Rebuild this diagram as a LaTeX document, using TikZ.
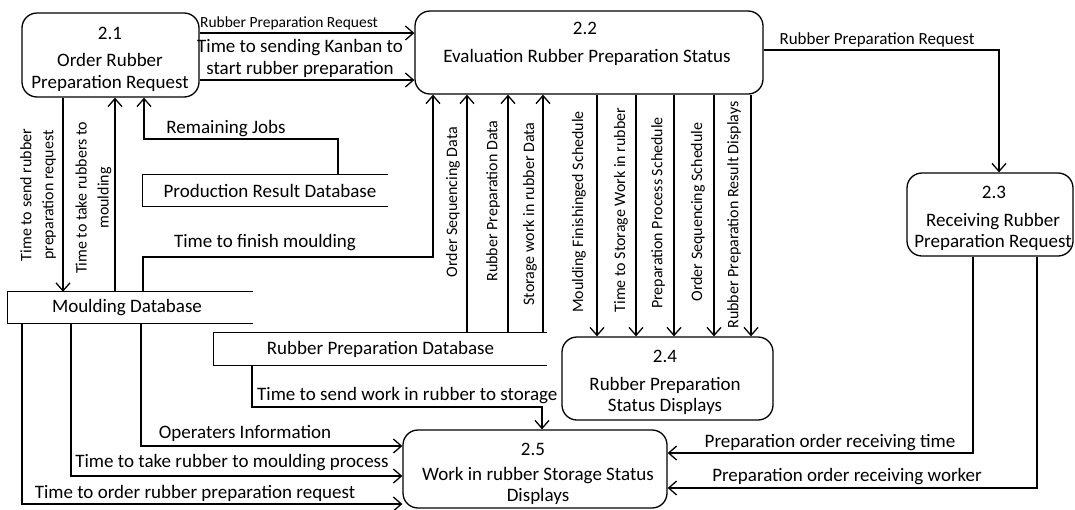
\documentclass[tikz,border=0pt]{standalone}
\usepackage{fontspec}
\setmainfont{Carlito}
\usetikzlibrary{arrows.meta}
\begin{document}
\begin{tikzpicture}[x=1pt,y=-1pt,
  ln/.style={line width=1.3pt},
  arr/.style={ln,-{Straight Barb[length=8pt,width=14pt]}},
  proc/.style={draw,line width=1.3pt,rounded corners=15pt,inner sep=0pt},
  store/.style={inner sep=0pt,font=\fontsize{19}{22}\selectfont},
  txt/.style={inner sep=0pt,font=\fontsize{19}{21.5}\selectfont,align=center},
  small/.style={inner sep=0pt,font=\fontsize{16}{22}\selectfont,align=center},
  vl/.style={small,rotate=90},
]
\useasboundingbox (0,0) rectangle (1075,509);

% processes
\node[proc,minimum width=177pt,minimum height=84pt] (n21) at (110.5,55) {};
\node[txt] (t21a) at (110,33) {2.1};
\node[txt] (t21b) at (110,72.5) {Order Rubber\\Preparation Request};

\node[proc,minimum width=348pt,minimum height=83pt] (n22) at (589,52.5) {};
\node[txt] (t22a) at (585,28) {2.2};
\node[txt] (t22b) at (587,57) {Evaluation Rubber Preparation Status};

\node[proc,minimum width=166pt,minimum height=83pt] (n23) at (990,214.5) {};
\node[txt] (t23a) at (994,192) {2.3};
\node[txt] (t23b) at (993,232) {Receiving Rubber\\Preparation Request};

\node[proc,minimum width=211pt,minimum height=83pt] (n24) at (667.5,378.5) {};
\node[txt] (t24a) at (665,356) {2.4};
\node[txt] (t24b) at (665,396) {Rubber Preparation\\Status Displays};

\node[proc,minimum width=264pt,minimum height=78pt] (n25) at (535,469) {};
\node[txt] (t25a) at (533,449) {2.5};
\node[txt] (t25b) at (538,486) {Work in rubber Storage Status\\Displays};

% data stores
\node[store,minimum width=245pt,minimum height=31pt] (sPR) at (265.5,190.5) {\hspace*{9pt}Production Result Database};
\draw[ln] (sPR.north east) -- (sPR.north west) -- (sPR.south west) -- (sPR.south east);
\node[store,minimum width=245pt,minimum height=31pt] (sMD) at (130.5,307.5) {Moulding Database\hspace*{7pt}};
\draw[ln] (sMD.north east) -- (sMD.north west) -- (sMD.south west) -- (sMD.south east);
\node[store,minimum width=333pt,minimum height=32pt] (sRP) at (380.5,349) {Rubber Preparation Database};
\draw[ln] (sRP.north east) -- (sRP.north west) -- (sRP.south west) -- (sRP.south east);

% 2.1 -> 2.2
\draw[arr] (n21.east |- 0,33) -- (n22.west |- 0,33);
\node[small,font=\fontsize{15.5}{20}\selectfont] (l1) at (289,23) {Rubber Preparation Request};
\draw[arr] (n21.east |- 0,80) -- (n22.west |- 0,80);
\node[txt] (l2) at (300,58.5) {Time to sending Kanban to\\start rubber preparation};

% 2.2 -> 2.3
\draw[arr] (n22.east |- 0,50) -| (999,0 |- n23.north);
\node[small,font=\fontsize{17}{20}\selectfont] (l3) at (877,40) {Rubber Preparation Request};

% 2.1 <-> moulding db
\draw[arr] (63,0 |- n21.south) -- (63,0 |- sMD.north);
\node[vl] (l4) at (38,195) {Time to send rubber\\preparation request};
\draw[arr] (115,0 |- sMD.north) -- (115,0 |- n21.south);
\node[vl] (l5) at (93.5,198) {Time to take rubbers to\\moulding};

% production result db -> 2.1
\draw[arr] (338,0 |- sPR.north) |- (144,139) -- (144,0 |- n21.south);
\node[txt] (l6) at (226,129) {Remaining Jobs};

% moulding db -> 2.2
\draw[arr] (143,0 |- sMD.north) |- (433,257) -- (433,0 |- n22.south);
\node[txt] (l7) at (265,243) {Time to finish moulding};

% rubber preparation db -> 2.2
\draw[arr] (467,0 |- sRP.north) -- (467,0 |- n22.south);
\node[vl] (l8) at (453,202) {Order Sequencing Data};
\draw[arr] (508,0 |- sRP.north) -- (508,0 |- n22.south);
\node[vl] (l9) at (493,201) {Rubber Preparation Data};
\draw[arr] (543,0 |- sRP.north) -- (543,0 |- n22.south);
\node[vl] (l10) at (530,214) {Storage work in rubber Data};

% 2.2 -> 2.4
\draw[arr] (597,0 |- n22.south) -- (597,0 |- n24.north);
\node[vl] (l11) at (579,212) {Moulding Finishinged Schedule};
\draw[arr] (636,0 |- n22.south) -- (636,0 |- n24.north);
\node[vl] (l12) at (621,210) {Time to Storage Work in rubber};
\draw[arr] (674,0 |- n22.south) -- (674,0 |- n24.north);
\node[vl] (l13) at (658,213) {Preparation Process Schedule};
\draw[arr] (714,0 |- n22.south) -- (714,0 |- n24.north);
\node[vl] (l14) at (698,212) {Order Sequencing Schedule};
\draw[arr] (751,0 |- n22.south) -- (751,0 |- n24.north);
\node[vl] (l15) at (734,215) {Rubber Preparation Result Displays};

% rubber preparation db -> 2.5
\draw[arr] (252,0 |- sRP.south) |- (542,407) -- (542,0 |- n25.north);
\node[txt,anchor=west] (l16) at (257,396) {Time to send work in rubber to storage};

% moulding db -> 2.5
\draw[arr] (141,0 |- sMD.south) |- (n25.west |- 0,446);
\node[txt] (l17) at (245,433) {Operaters Information};
\draw[arr] (71,0 |- sMD.south) |- (n25.west |- 0,476);
\node[txt] (l18) at (232,463) {Time to take rubber to moulding process};
\draw[arr] (22,0 |- sMD.south) |- (n25.west |- 0,504);
\node[txt] (l19) at (195,493) {Time to order rubber preparation request};

% 2.3 -> 2.5
\draw[arr] (973,0 |- n23.south) |- (n25.east |- 0,453);
\node[txt] (l20) at (830,443) {Preparation order receiving time};
\draw[arr] (1037,0 |- n23.south) |- (n25.east |- 0,488);
\node[txt] (l21) at (847,477) {Preparation order receiving worker};
\end{tikzpicture}
\end{document}
